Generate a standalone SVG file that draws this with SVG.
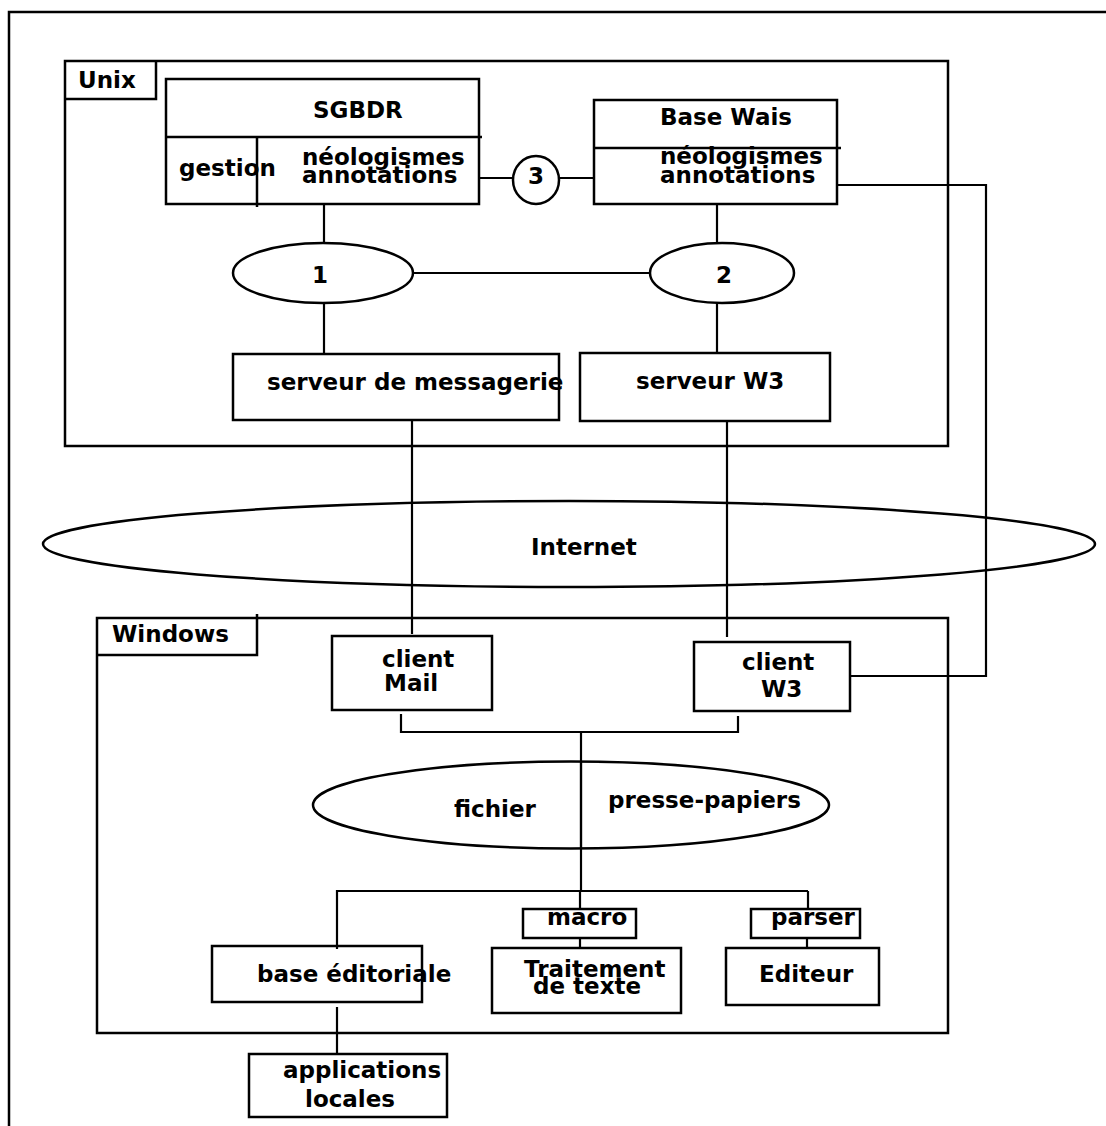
<svg xmlns="http://www.w3.org/2000/svg" width="1106" height="1126" viewBox="0 0 1106 1126">
<style>
  .b { fill: none; stroke: #000; stroke-width: 2.5; }
  .e { fill: #fff; stroke: #000; stroke-width: 2.5; }
  .c { fill: none; stroke: #000; stroke-width: 2.2; }
  .t { font-family: "DejaVu Sans", "Liberation Sans", sans-serif; font-weight: bold; font-size: 23px; fill: #000; }
</style>
<rect x="0" y="0" width="1106" height="1126" fill="#fff"/>
<g id="frame">
  <path class="b" d="M9,1130 V12 H1110"/>
</g>
<g id="unix">
  <rect class="b" x="65" y="61" width="883" height="385"/>
  <path class="b" d="M156,61 V99 H65"/>
  <text class="t" x="78" y="88">Unix</text>
</g>
<g id="windows">
  <rect class="b" x="97" y="618" width="851" height="415"/>
  <path class="b" d="M257,614 V655 H97"/>
  <text class="t" x="112" y="642">Windows</text>
</g>
<g id="internet">
  <ellipse class="b" cx="569" cy="544" rx="526" ry="43"/>
  <text class="t" x="531" y="555">Internet</text>
</g>
<g id="connectors">
  <path class="c" d="M479,178 H513"/>
  <path class="c" d="M559,178 H594"/>
  <path class="c" d="M324,204 V244"/>
  <path class="c" d="M717,204 V244"/>
  <path class="c" d="M413,273 H650"/>
  <path class="c" d="M324,303 V354"/>
  <path class="c" d="M717,303 V353"/>
  <path class="c" d="M412,420 V634"/>
  <path class="c" d="M727,421 V637"/>
  <path class="c" d="M837,185 H986 V676 H850"/>
  <path class="c" stroke-width="3" d="M401,714 V732 H738 V716"/>
  <path class="c" d="M581,732 V891"/>
  <path class="c" stroke-width="3" d="M337,949 V891 H808"/>
  <path class="c" d="M580,891 V909"/>
  <path class="c" d="M808,891 V909"/>
  <path class="c" d="M580,938 V948"/>
  <path class="c" d="M807,938 V948"/>
  <path class="c" d="M337,1007 V1054"/>
</g>
<g id="sgbdr">
  <rect class="b" x="166" y="79" width="313" height="125"/>
  <path class="b" d="M166,137 H482"/>
  <path class="b" d="M257,137 V207"/>
  <text class="t" x="313" y="118">SGBDR</text>
  <text class="t" x="179" y="176">gestion</text>
  <text class="t" x="302" y="165">néologismes</text>
  <text class="t" x="302" y="183">annotations</text>
</g>
<g id="base-wais">
  <rect class="b" x="594" y="100" width="243" height="104"/>
  <path class="b" d="M594,148 H841"/>
  <text class="t" x="660" y="125">Base Wais</text>
  <text class="t" x="660" y="164">néologismes</text>
  <text class="t" x="660" y="183">annotations</text>
</g>
<g id="n3">
  <ellipse class="e" cx="536" cy="180" rx="23" ry="24"/>
  <text class="t" x="536" y="184" text-anchor="middle">3</text>
</g>
<g id="n1">
  <ellipse class="e" cx="323" cy="273" rx="90" ry="30"/>
  <text class="t" x="320" y="283" text-anchor="middle">1</text>
</g>
<g id="n2">
  <ellipse class="e" cx="722" cy="273" rx="72" ry="30"/>
  <text class="t" x="724" y="283" text-anchor="middle">2</text>
</g>
<g id="serveur-messagerie">
  <rect class="b" x="233" y="354" width="326" height="66"/>
  <text class="t" x="267" y="390">serveur de messagerie</text>
</g>
<g id="serveur-w3">
  <rect class="b" x="580" y="353" width="250" height="68"/>
  <text class="t" x="636" y="389">serveur W3</text>
</g>
<g id="client-mail">
  <rect class="b" x="332" y="636" width="160" height="74"/>
  <text class="t" x="382" y="667">client</text>
  <text class="t" x="384" y="691">Mail</text>
</g>
<g id="client-w3">
  <rect class="b" x="694" y="642" width="156" height="69"/>
  <text class="t" x="742" y="670">client</text>
  <text class="t" x="761" y="697">W3</text>
</g>
<g id="fichier">
  <ellipse class="b" cx="571" cy="805" rx="258" ry="43.5"/>
  <path class="c" d="M581,761 V849"/>
  <text class="t" x="454" y="817">fichier</text>
  <text class="t" x="608" y="808">presse-papiers</text>
</g>
<g id="macro">
  <rect class="e" x="523" y="909" width="113" height="29"/>
  <text class="t" x="547" y="925">macro</text>
</g>
<g id="traitement">
  <rect class="b" x="492" y="948" width="189" height="65"/>
  <text class="t" x="524" y="977">Traitement</text>
  <text class="t" x="533" y="994">de texte</text>
</g>
<g id="parser">
  <rect class="e" x="751" y="909" width="109" height="29"/>
  <text class="t" x="771" y="925">parser</text>
</g>
<g id="editeur">
  <rect class="b" x="726" y="948" width="153" height="57"/>
  <text class="t" x="759" y="982">Editeur</text>
</g>
<g id="base-editoriale">
  <rect class="b" x="212" y="946" width="210" height="56"/>
  <text class="t" x="257" y="982">base éditoriale</text>
</g>
<g id="applications">
  <rect class="b" x="249" y="1054" width="198" height="63"/>
  <text class="t" x="283" y="1078">applications</text>
  <text class="t" x="305" y="1107">locales</text>
</g>
</svg>
